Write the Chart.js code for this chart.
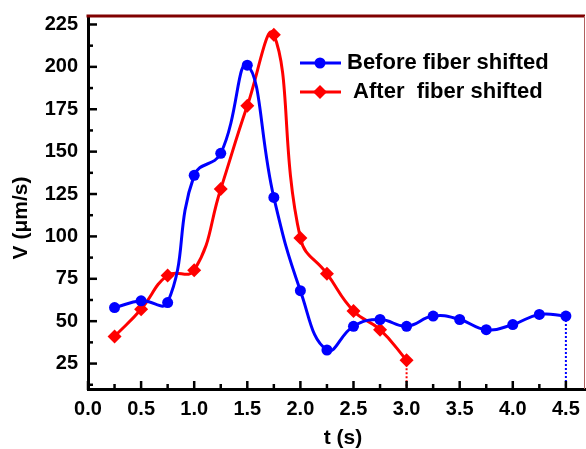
<!DOCTYPE html>
<html>
<head>
<meta charset="utf-8">
<script src="https://cdn.jsdelivr.net/npm/chart.js@4.4.1/dist/chart.umd.min.js"></script>
<style>
  html, body { margin: 0; padding: 0; background: #fff; }
  #wrap { width: 586px; height: 449px; }
</style>
</head>
<body>
<div id="wrap"><canvas id="chart" width="586" height="449"></canvas></div>
<script>
// t (s) sampling points
const timesBefore = [0.25, 0.5, 0.75, 1.0, 1.25, 1.5, 1.75, 2.0, 2.25, 2.5, 2.75, 3.0, 3.25, 3.5, 3.75, 4.0, 4.25, 4.5];
const valuesBefore = [58, 62, 61, 136, 149, 201, 123, 68, 33, 47, 51, 47, 53, 51, 45, 48, 54, 53];

const timesAfter = [0.25, 0.5, 0.75, 1.0, 1.25, 1.5, 1.75, 2.0, 2.25, 2.5, 2.75, 3.0];
const valuesAfter = [41, 57, 77, 80, 128, 177, 219, 99, 78, 56, 45, 27];

const xTicks = [0, 0.5, 1.0, 1.5, 2.0, 2.5, 3.0, 3.5, 4.0, 4.5];
const yTicks = [25, 50, 75, 100, 125, 150, 175, 200, 225];

const labelBefore = "Before fiber shifted";
const labelAfter = " After  fiber shifted";

const X_MIN = 0, X_MAX = 4.68;
const Y_MIN = 10, Y_MAX = 230;

const BLUE = "#0000ff";
const RED = "#ff0000";
const FONT = "Liberation Sans, Arial, sans-serif";

const toPoints = (xs, ys) => xs.map((x, i) => ({ x, y: ys[i] }));
const lastBefore = timesBefore.length - 1;
const lastAfter = timesAfter.length - 1;

// inward ticks, frame and labels
const decorPlugin = {
  id: "decor",
  afterDraw(chart) {
    const { ctx, chartArea: a, scales } = chart;
    const xs = scales.x, ys = scales.y;
    ctx.save();
    ctx.strokeStyle = "#000";
    ctx.lineWidth = 2.5;
    // x ticks (major + minor), pointing up into the plot
    for (let v = 0; v <= 4.5001; v += 0.25) {
      const px = xs.getPixelForValue(v);
      const major = Math.abs(v / 0.5 - Math.round(v / 0.5)) < 1e-6;
      ctx.beginPath();
      ctx.moveTo(px, a.bottom + 1);
      ctx.lineTo(px, a.bottom - (major ? 8 : 5));
      ctx.stroke();
    }
    // y ticks (major + minor), pointing right into the plot
    for (let v = 12.5; v <= 225.01; v += 12.5) {
      const py = ys.getPixelForValue(v);
      const major = v % 25 === 0;
      ctx.beginPath();
      ctx.moveTo(a.left - 1, py);
      ctx.lineTo(a.left + (major ? 9 : 5), py);
      ctx.stroke();
    }
    // top and right frame (dark red)
    ctx.strokeStyle = "#800000";
    ctx.lineWidth = 3;
    ctx.beginPath();
    ctx.moveTo(a.left - 1.5, a.top);
    ctx.lineTo(a.right, a.top);
    ctx.stroke();
    ctx.lineWidth = 1;
    ctx.strokeStyle = "#b06060";
    ctx.beginPath();
    ctx.moveTo(a.right - 0.5, a.top);
    ctx.lineTo(a.right - 0.5, a.bottom);
    ctx.stroke();

    // axis titles
    ctx.fillStyle = "#000";
    ctx.font = "bold 21px " + FONT;
    ctx.textAlign = "center";
    ctx.textBaseline = "middle";
    ctx.fillText("t (s)", 343, 438);
    ctx.save();
    ctx.translate(21, 218);
    ctx.rotate(-Math.PI / 2);
    ctx.fillText("V (\u03bcm/s)", 0, 0);
    ctx.restore();

    // legend
    const rows = [
      { label: labelBefore, color: BLUE, y: 63, style: "circle" },
      { label: labelAfter, color: RED, y: 92, style: "diamond" }
    ];
    rows.forEach((r) => {
      ctx.strokeStyle = r.color;
      ctx.fillStyle = r.color;
      ctx.lineWidth = 3;
      ctx.beginPath();
      ctx.moveTo(300, r.y);
      ctx.lineTo(341, r.y);
      ctx.stroke();
      ctx.beginPath();
      if (r.style === "circle") {
        ctx.arc(320, r.y, 5.5, 0, Math.PI * 2);
      } else {
        ctx.moveTo(320, r.y - 7);
        ctx.lineTo(327, r.y);
        ctx.lineTo(320, r.y + 7);
        ctx.lineTo(313, r.y);
        ctx.closePath();
      }
      ctx.fill();
      ctx.fillStyle = "#000";
      ctx.font = "bold 22px " + FONT;
      ctx.textAlign = "left";
      ctx.fillText(r.label, 347, r.y);
    });
    ctx.restore();
  }
};

new Chart(document.getElementById("chart"), {
  type: "line",
  data: {
    datasets: [
      {
        label: "drop-before",
        data: [{ x: timesBefore[lastBefore], y: valuesBefore[lastBefore] }, { x: timesBefore[lastBefore], y: Y_MIN }],
        borderColor: BLUE,
        borderWidth: 2,
        borderDash: [2, 2],
        pointRadius: 0,
        tension: 0
      },
      {
        label: "drop-after",
        data: [{ x: timesAfter[lastAfter], y: valuesAfter[lastAfter] }, { x: timesAfter[lastAfter], y: Y_MIN }],
        borderColor: RED,
        borderWidth: 2,
        borderDash: [2, 2],
        pointRadius: 0,
        tension: 0
      },
      {
        label: labelBefore,
        data: toPoints(timesBefore, valuesBefore),
        borderColor: BLUE,
        backgroundColor: BLUE,
        borderWidth: 3,
        pointStyle: "circle",
        pointRadius: 5.5,
        pointBorderWidth: 0,
        tension: 0.45
      },
      {
        label: labelAfter,
        data: toPoints(timesAfter, valuesAfter),
        borderColor: RED,
        backgroundColor: RED,
        borderWidth: 3,
        pointStyle: "rectRot",
        pointRadius: 7,
        pointBorderWidth: 0,
        tension: 0.45
      }
    ]
  },
  options: {
    responsive: false,
    animation: false,
    layout: { autoPadding: false, padding: { top: 16, right: 1, left: 0, bottom: 0 } },
    plugins: {
      legend: { display: false },
      tooltip: { enabled: false }
    },
    scales: {
      x: {
        type: "linear",
        min: X_MIN,
        max: X_MAX,
        afterFit: (s) => { s.height = 60; s.paddingLeft = 0; s.paddingRight = 0; },
        afterBuildTicks: (s) => { s.ticks = xTicks.map((v) => ({ value: v })); },
        grid: { display: false, drawTicks: false },
        border: { display: true, color: "#000", width: 3 },
        ticks: {
          color: "#000",
          padding: 8,
          font: { family: FONT, size: 20, weight: "bold" },
          callback: (v) => Number(v).toFixed(1)
        }
      },
      y: {
        type: "linear",
        min: Y_MIN,
        max: Y_MAX,
        afterFit: (s) => { s.width = 88; s.paddingTop = 0; s.paddingBottom = 0; },
        afterBuildTicks: (s) => { s.ticks = yTicks.map((v) => ({ value: v })); },
        grid: { display: false, drawTicks: false },
        border: { display: true, color: "#000", width: 3 },
        ticks: {
          color: "#000",
          padding: 10,
          font: { family: FONT, size: 20, weight: "bold" },
          callback: (v) => String(v)
        }
      }
    }
  },
  plugins: [decorPlugin]
});
</script>
</body>
</html>
